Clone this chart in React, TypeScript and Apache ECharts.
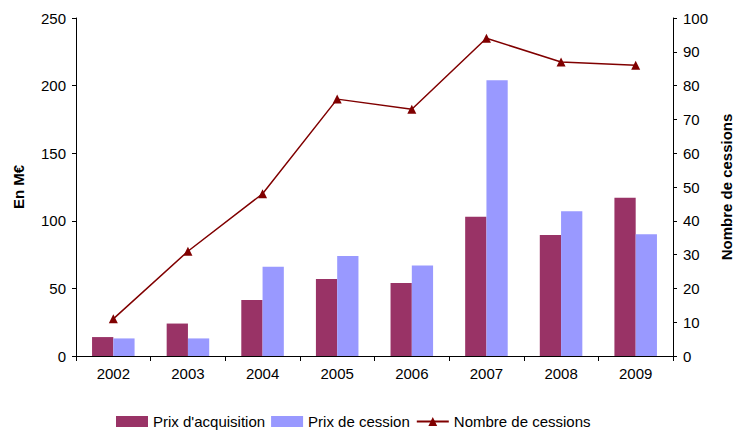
import React, { useEffect, useRef } from "react";
import * as echarts from "echarts";

const years = ["2002", "2003", "2004", "2005", "2006", "2007", "2008", "2009"];
const prixAcquisition = [14, 24, 41.5, 57, 54, 103, 89.5, 117];
const prixCession = [13, 13, 66, 74, 67, 204, 107, 90];
const nombreCessions = [11, 31, 48, 76, 73, 94, 87, 86];

const FONT = "'Liberation Sans', Arial, sans-serif";

export default function App() {
  const ref = useRef<HTMLDivElement>(null);
  useEffect(() => {
    if (!ref.current) return;
    const chart = echarts.init(ref.current, undefined, { renderer: "svg" });
    const axisLine = { show: true, lineStyle: { color: "#000", width: 1 } };
    const axisLabel = { color: "#000", fontSize: 15, fontFamily: FONT };
    const nameStyle = { color: "#000", fontSize: 15, fontWeight: "bold", fontFamily: FONT };
    chart.setOption({
      animation: false,
      backgroundColor: "#fff",
      textStyle: { fontFamily: FONT },
      grid: { left: 76, right: 65, top: 18, bottom: 76 },
      legend: {
        left: 116,
        top: 414,
        padding: 0,
        itemGap: 6,
        itemWidth: 32,
        itemHeight: 11,
        textStyle: { color: "#000", fontSize: 15, fontFamily: FONT },
        data: [
          { name: "Prix d'acquisition", icon: "rect" },
          { name: "Prix de cession", icon: "rect" },
          { name: "Nombre de cessions" },
        ],
      },
      xAxis: {
        type: "category",
        data: years,
        axisLine,
        axisTick: { show: true, length: 5, lineStyle: { color: "#000" } },
        axisLabel: { ...axisLabel, margin: 10 },
        splitLine: { show: false },
      },
      yAxis: [
        {
          type: "value",
          min: 0,
          max: 250,
          interval: 50,
          name: "En M€",
          nameLocation: "middle",
          nameGap: 50,
          nameRotate: 90,
          nameTextStyle: nameStyle,
          axisLine,
          axisTick: { show: true, length: 4, lineStyle: { color: "#000" } },
          axisLabel: { ...axisLabel, margin: 10 },
          splitLine: { show: false },
        },
        {
          type: "value",
          min: 0,
          max: 100,
          interval: 10,
          position: "right",
          name: "Nombre de cessions",
          nameLocation: "middle",
          nameGap: 46,
          nameRotate: 90,
          nameTextStyle: nameStyle,
          axisLine,
          axisTick: { show: true, length: 4, lineStyle: { color: "#000" } },
          axisLabel: { ...axisLabel, margin: 10 },
          splitLine: { show: false },
        },
      ],
      series: [
        {
          name: "Prix d'acquisition",
          type: "bar",
          data: prixAcquisition,
          yAxisIndex: 0,
          barGap: "0%",
          barCategoryGap: "43%",
          itemStyle: { color: "#993366" },
        },
        {
          name: "Prix de cession",
          type: "bar",
          data: prixCession,
          yAxisIndex: 0,
          barGap: "0%",
          barCategoryGap: "43%",
          itemStyle: { color: "#9999FF" },
        },
        {
          name: "Nombre de cessions",
          type: "line",
          data: nombreCessions,
          yAxisIndex: 1,
          symbol: "triangle",
          symbolSize: 9,
          lineStyle: { color: "#800000", width: 1.5 },
          itemStyle: { color: "#800000" },
        },
      ],
    });
    return () => chart.dispose();
  }, []);
  return <div ref={ref} style={{ width: 742, height: 432, position: "absolute", left: 0, top: 0 }} />;
}
